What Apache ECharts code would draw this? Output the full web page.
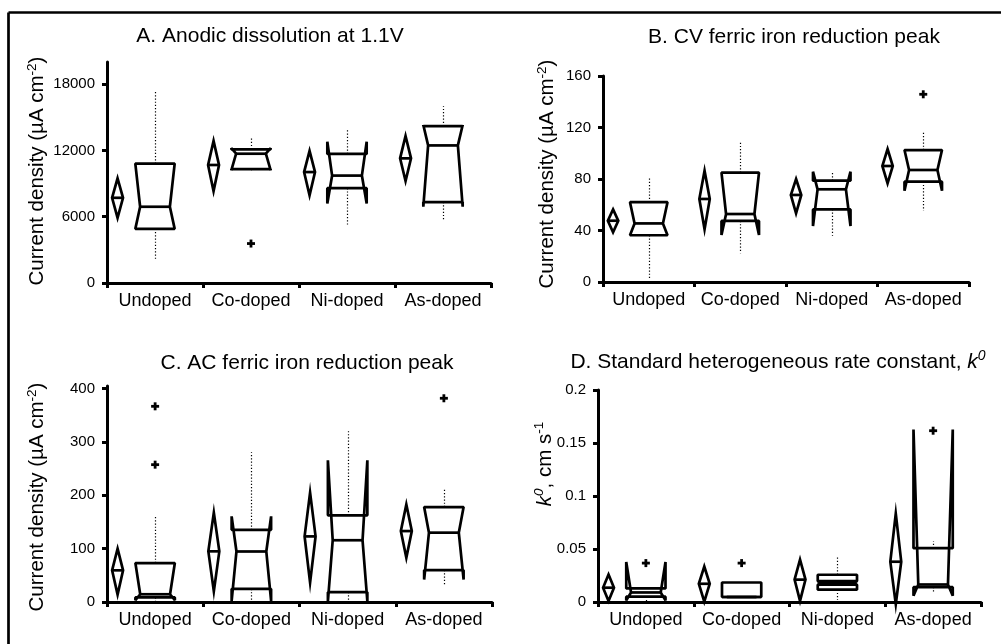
<!DOCTYPE html>
<html><head><meta charset="utf-8">
<script src="https://cdn.jsdelivr.net/npm/echarts@6/dist/echarts.min.js"></script>
<style>html,body{margin:0;padding:0;background:#fff}#c{width:1001px;height:644px}</style>
</head><body><div id="c"></div>
<script>
const categories = ['Undoped', 'Co-doped', 'Ni-doped', 'As-doped'];

// Panel A: Anodic dissolution at 1.1V (µA cm-2)
const meanA = [7710, 10680, 10040, 11280];
const ciLoA = [5900, 8320, 7930, 9230];
const ciHiA = [9470, 12860, 11950, 13300];
const q1A = [4900, 10300, 8580, 7320];
const medA = [6900, 11700, 9720, 12450];
const q3A = [10800, 12100, 11680, 14200];
const notchLoA = [4900, 10200, 7200, 6900];
const notchHiA = [10800, 12200, 12780, 14300];
const whiskLoA = [2100, 10200, 5200, 5750];
const whiskHiA = [17400, 13200, 13900, 16000];
const outliersA = [[], [3570], [], []];
const ticksA = [0, 6000, 12000, 18000];

// Panel B: CV ferric iron reduction peak (µA cm-2)
const meanB = [47.6, 64.5, 67.6, 90.1];
const ciLoB = [38.6, 40.9, 53.3, 76.6];
const ciHiB = [56.4, 86.5, 80.0, 103.3];
const q1B = [36.3, 47.4, 56.4, 77.9];
const medB = [45.5, 52.8, 72.0, 87.0];
const q3B = [62.0, 84.9, 78.7, 102.5];
const notchLoB = [36.3, 36.5, 43.5, 70.9];
const notchHiB = [62.0, 84.9, 85.7, 102.5];
const whiskLoB = [2.8, 22.3, 36.0, 55.4];
const whiskHiB = [81.3, 108.2, 84.8, 116.0];
const outliersB = [[], [], [], [145.8]];
const ticksB = [0, 40, 80, 120, 160];

// Panel C: AC ferric iron reduction peak (µA cm-2)
const meanC = [59.4, 95, 123, 133];
const ciLoC = [13.8, 20, 36.3, 83];
const ciHiC = [100, 167.5, 205, 183];
const q1C = [8.5, 24.5, 18.5, 59.7];
const medC = [14.5, 94.7, 115.8, 130];
const q3C = [73, 135.3, 162.5, 178];
const notchLoC = [3.5, 2, 1, 42];
const notchHiC = [73, 160.6, 265.6, 178];
const whiskLoC = [1, 1, 1, 30];
const whiskHiC = [161, 281, 320, 214];
const outliersC = [[257.5, 366.9], [], [], [382]];
const ticksC = [0, 100, 200, 300, 400];

// Panel D: standard heterogeneous rate constant k0 (cm s-1)
const meanD = [0.0135, 0.0172, 0.0211, 0.038];
const ciLoD = [0.001, 0.0003, 0.001, -0.002];
const ciHiD = [0.026, 0.0335, 0.04, 0.0834];
const q1D = [0.005, 0.0047, 0.0116, 0.014];
const medD = [0.009, 0.0047, 0.018, 0.0165];
const q3D = [0.0128, 0.0184, 0.0257, 0.0508];
const notchLoD = [0.0015, 0.0047, 0.0163, 0.006];
const notchHiD = [0.0378, 0.0047, 0.0197, 0.1627];
const whiskLoD = [0.001, 0.004, 0.002, 0.0085];
const whiskHiD = [0.0145, 0.0184, 0.0438, 0.0574];
const outliersD = [[0.0367], [0.0367], [], [0.1616]];
const ticksD = [0, 0.05, 0.1, 0.15, 0.2];

const FONT = "'Liberation Sans', Arial, Helvetica, sans-serif";

function boxRows(mean, ciLo, ciHi, q1, med, q3, nLo, nHi, wLo, wHi) {
  return categories.map((c, i) => [i, mean[i], ciLo[i], ciHi[i], q1[i], med[i], q3[i], nLo[i], nHi[i], wLo[i], wHi[i]]);
}
function outlierRows(out) {
  const rows = [];
  out.forEach((list, i) => list.forEach(v => rows.push([i, v])));
  return rows;
}

const panels = [
  { rows: boxRows(meanA, ciLoA, ciHiA, q1A, medA, q3A, notchLoA, notchHiA, whiskLoA, whiskHiA), out: outlierRows(outliersA), ticks: ticksA, max: 20000, interval: 6000,
    grid: { left: 107, top: 62, width: 384, height: 221 } },
  { rows: boxRows(meanB, ciLoB, ciHiB, q1B, medB, q3B, notchLoB, notchHiB, whiskLoB, whiskHiB), out: outlierRows(outliersB), ticks: ticksB, max: 160, interval: 40,
    grid: { left: 603, top: 76, width: 366, height: 206 } },
  { rows: boxRows(meanC, ciLoC, ciHiC, q1C, medC, q3C, notchLoC, notchHiC, whiskLoC, whiskHiC), out: outlierRows(outliersC), ticks: ticksC, max: 405, interval: 100,
    grid: { left: 107, top: 386, width: 385, height: 216 } },
  { rows: boxRows(meanD, ciLoD, ciHiD, q1D, medD, q3D, notchLoD, notchHiD, whiskLoD, whiskHiD), out: outlierRows(outliersD), ticks: ticksD, max: 0.2, interval: 0.05,
    grid: { left: 598, top: 390, width: 383, height: 212 } }
];

const LW = 2.7;
const AXW = 3;
const strokeStyle = { stroke: '#000', fill: 'none', lineWidth: LW };
const boxStyle = { stroke: '#000', fill: 'none', lineWidth: LW, lineJoin: 'bevel' };

function renderBox(params, api) {
  const i = api.value(0);
  const band = api.size([1, 0])[0];
  const cx = api.coord([i, 0])[0];
  const Y = v => api.coord([i, v])[1];
  const mean = api.value(1), ciLo = api.value(2), ciHi = api.value(3);
  const q1 = api.value(4), med = api.value(5), q3 = api.value(6);
  const nLo = api.value(7), nHi = api.value(8), wLo = api.value(9), wHi = api.value(10);
  const dx = cx - 0.39 * band, dw = 0.057 * band;
  const hw = 0.205 * band, nw = 0.155 * band;
  const L = cx - hw, R = cx + hw, nl = cx - nw, nr = cx + nw;
  const wx = Math.round(cx) + 0.5;
  const dash = { stroke: '#000', lineWidth: 1.2, lineDash: [1.2, 2] };
  const children = [
    { type: 'line', shape: { x1: wx, y1: Y(q3), x2: wx, y2: Y(wHi) }, style: dash },
    { type: 'line', shape: { x1: wx, y1: Y(q1), x2: wx, y2: Y(wLo) }, style: dash },
    { type: 'polygon', shape: { points: [[dx, Y(ciHi)], [dx + dw, Y(mean)], [dx, Y(ciLo)], [dx - dw, Y(mean)]] }, style: strokeStyle },
    { type: 'line', shape: { x1: dx - dw, y1: Y(mean), x2: dx + dw, y2: Y(mean) }, style: strokeStyle },
    { type: 'polygon', shape: { points: [[L, Y(q3)], [L, Y(nHi)], [nl, Y(med)], [L, Y(nLo)], [L, Y(q1)],
      [R, Y(q1)], [R, Y(nLo)], [nr, Y(med)], [R, Y(nHi)], [R, Y(q3)]] }, style: boxStyle },
    { type: 'line', shape: { x1: nl, y1: Y(med), x2: nr, y2: Y(med) }, style: strokeStyle }
  ];
  if (nHi < q3) children.push({ type: 'line', shape: { x1: L, y1: Y(nHi), x2: R, y2: Y(nHi) }, style: strokeStyle });
  if (nLo > q1) children.push({ type: 'line', shape: { x1: L, y1: Y(nLo), x2: R, y2: Y(nLo) }, style: strokeStyle });
  return { type: 'group', children };
}

function renderPlus(params, api) {
  const p = api.coord([api.value(0), api.value(1)]);
  const s = 4;
  const st = { stroke: '#000', lineWidth: 2.8 };
  return { type: 'group', children: [
    { type: 'line', shape: { x1: p[0] - s, y1: p[1], x2: p[0] + s, y2: p[1] }, style: st },
    { type: 'line', shape: { x1: p[0], y1: p[1] - s, x2: p[0], y2: p[1] + s }, style: st }
  ] };
}

const axisLineStyle = { color: '#000', width: AXW };
const option = {
  animation: false,
  backgroundColor: '#fff',
  grid: panels.map(p => p.grid),
  xAxis: panels.map((p, k) => ({
    type: 'category', gridIndex: k, data: categories,
    axisLine: { show: true, lineStyle: axisLineStyle },
    axisTick: { show: true, length: 5, lineStyle: { color: '#000', width: AXW } },
    axisLabel: { interval: 0, color: '#000', fontSize: 18, margin: 9, fontFamily: FONT },
    splitLine: { show: false }
  })),
  yAxis: panels.map((p, k) => ({
    type: 'value', gridIndex: k, min: 0, max: p.max, interval: p.interval,
    axisLine: { show: true, onZero: false, lineStyle: axisLineStyle },
    axisTick: { show: true, length: 5, customValues: p.ticks, lineStyle: { color: '#000', width: AXW } },
    axisLabel: { color: '#000', fontSize: 15, margin: 12, fontFamily: FONT, customValues: p.ticks,
      formatter: v => String(+v.toFixed(4)) },
    splitLine: { show: false }
  })),
  series: [].concat(...panels.map((p, k) => [
    { type: 'custom', xAxisIndex: k, yAxisIndex: k, data: p.rows, renderItem: renderBox, clip: false, z: 3 },
    { type: 'custom', xAxisIndex: k, yAxisIndex: k, data: p.out, renderItem: renderPlus, clip: false, z: 3 }
  ])),
  graphic: [
    { type: 'line', shape: { x1: 8.5, y1: 12.5, x2: 1001, y2: 12.5 }, style: { stroke: '#000', lineWidth: LW } },
    { type: 'line', shape: { x1: 8.5, y1: 12.5, x2: 8.5, y2: 644 }, style: { stroke: '#000', lineWidth: LW } },
    { type: 'text', x: 270, y: 36, style: { text: 'A. Anodic dissolution at 1.1V', font: '21px ' + FONT, fill: '#000', align: 'center', verticalAlign: 'middle' } },
    { type: 'text', x: 794, y: 37, style: { text: 'B. CV ferric iron reduction peak', font: '21px ' + FONT, fill: '#000', align: 'center', verticalAlign: 'middle' } },
    { type: 'text', x: 307, y: 363, style: { text: 'C. AC ferric iron reduction peak', font: '21px ' + FONT, fill: '#000', align: 'center', verticalAlign: 'middle' } },
    { type: 'text', x: 778, y: 362, style: {
      text: '{n|D. Standard heterogeneous rate constant, }{i|k}{si|0}', align: 'center', verticalAlign: 'middle',
      rich: { n: { fontSize: 21, fontFamily: FONT, lineHeight: 26, fill: '#000' },
              i: { fontSize: 21, fontFamily: FONT, fontStyle: 'italic', lineHeight: 26, fill: '#000' },
              si: { fontSize: 14, fontFamily: FONT, fontStyle: 'italic', verticalAlign: 'top', lineHeight: 14, fill: '#000' } } } },
    ...[[37.5, 171], [547.5, 174], [37.5, 497]].map(([x, y]) => ({
      type: 'text', x, y, rotation: Math.PI / 2, style: {
        text: '{n|Current density (µA cm}{s|-2}{n|)}', align: 'center', verticalAlign: 'middle',
        rich: { n: { fontSize: 20.5, fontFamily: FONT, lineHeight: 25, fill: '#000' },
                s: { fontSize: 13.5, fontFamily: FONT, verticalAlign: 'top', lineHeight: 14, fill: '#000' } } } })),
    { type: 'text', x: 545, y: 464, rotation: Math.PI / 2, style: {
      text: '{i|k}{si|0}{n|, cm s}{s|-1}', align: 'center', verticalAlign: 'middle',
      rich: { n: { fontSize: 20.5, fontFamily: FONT, lineHeight: 25, fill: '#000' },
              i: { fontSize: 20.5, fontFamily: FONT, fontStyle: 'italic', lineHeight: 25, fill: '#000' },
              si: { fontSize: 13.5, fontFamily: FONT, fontStyle: 'italic', verticalAlign: 'top', lineHeight: 14, fill: '#000' },
              s: { fontSize: 13.5, fontFamily: FONT, verticalAlign: 'top', lineHeight: 14, fill: '#000' } } } }
  ]
};
echarts.init(document.getElementById('c'), null, { renderer: 'canvas' }).setOption(option);
</script></body></html>
